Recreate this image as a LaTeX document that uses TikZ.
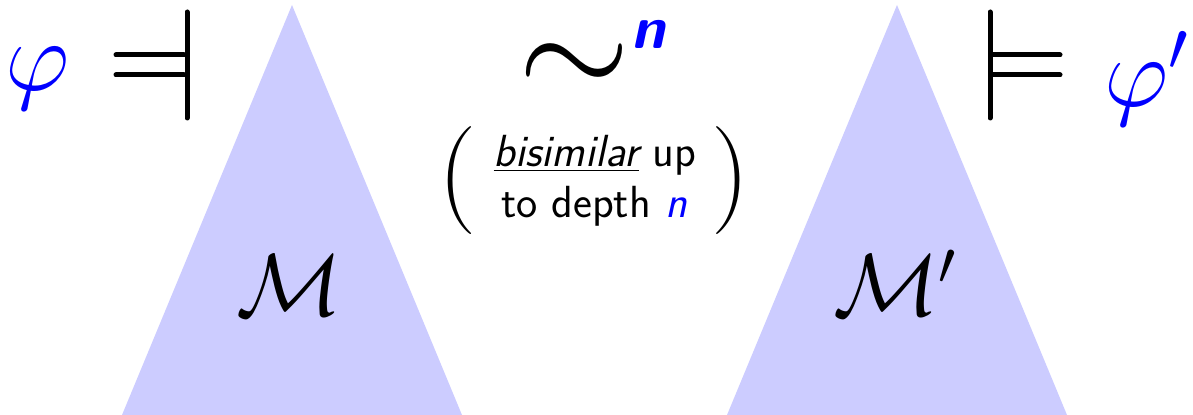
\RequirePackage{fix-cm}
\documentclass[tikz,border=0pt]{standalone}
\usepackage{fontspec}
\begin{document}
\begin{tikzpicture}[x=0.5pt,y=-0.5pt,
  tri/.style={fill={rgb,255:red,204;green,204;blue,255}, draw=none},
  turn/.style={line width=2.5pt, line cap=round, black},
  phis/.style={inner sep=0pt, text=blue, font=\fontsize{50}{54}\selectfont},
  simst/.style={inner sep=0pt, font=\fontsize{72}{76}\selectfont},
  cal/.style={inner sep=0pt, anchor=base, font=\fontsize{44}{50}\selectfont},
  parst/.style={inner sep=0pt, font=\fontsize{54}{58}\selectfont\rmfamily},
  txt/.style={inner sep=0pt, anchor=base, font=\fontsize{22.5}{25.5}\selectfont\sffamily}]
\useasboundingbox (0,0) rectangle (1193,415);
% triangles
\fill[tri] (292,5) -- (462,415) -- (122,415) -- cycle;
\fill[tri] (897,5) -- (1067,415) -- (727,415) -- cycle;
% phi
\node[phis, anchor=west] (phi) at (5,79) {$\varphi$};
\node[phis, anchor=west] (phip) at (1104,79) {$\varphi'$};
% reversed models
\coordinate (lt) at (187,12); \coordinate (lb) at (187,118);
\coordinate (la1) at (116,55); \coordinate (lb1) at (184,55);
\coordinate (la2) at (116,75); \coordinate (lb2) at (184,75);
\draw[turn] (lt) -- (lb);
\draw[turn] (la1) -- (lb1);
\draw[turn] (la2) -- (lb2);
% models
\coordinate (rt) at (990,12); \coordinate (rb) at (990,118);
\coordinate (ra1) at (993,55); \coordinate (rb1) at (1060,55);
\coordinate (ra2) at (993,75); \coordinate (rb2) at (1060,75);
\draw[turn] (rt) -- (rb);
\draw[turn] (ra1) -- (rb1);
\draw[turn] (ra2) -- (rb2);
% sim
\node[simst] (sim) at (574,70) {$\sim$};
\node[inner sep=0pt, text=blue, font=\fontsize{30}{32}\selectfont\sffamily\bfseries\itshape] (nsup) at (648,34) {n};
% parentheses and text
\node[parst] (lpar) at (458,181) {(};
\node[parst] (rpar) at (731,181) {)};
\node[txt] (line1) at (595,167) {\underline{\itshape bisimilar} up};
\node[txt] (line2) at (594,218) {to depth {\color{blue}\itshape n}};
% M
\node[cal] (M) at (289,316) {$\mathcal{M}$};
\node[cal] (Mp) at (895,316) {$\mathcal{M}'$};
\end{tikzpicture}
\end{document}
